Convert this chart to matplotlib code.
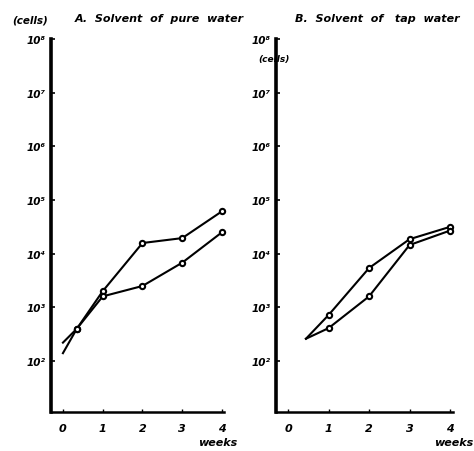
import matplotlib.pyplot as plt
from matplotlib.ticker import FixedLocator, NullLocator

# cell counts per week, panel A (pure water) and panel B (tap water)
weeks_a = [0, 0.35, 1, 2, 3, 4]
cells_a_upper = [140, 400, 2000, 15800, 19500, 61700]
cells_a_lower = [220, 400, 1600, 2500, 6800, 25100]

weeks_b = [0.44, 1, 2, 3, 4]
cells_b_upper = [260, 720, 5400, 18600, 31600]
cells_b_lower = [260, 410, 1600, 14500, 26900]

decades = [2, 3, 4, 5, 6, 7, 8]
tick_weeks = [0, 1, 2, 3, 4]

sup = str.maketrans('0123456789', '⁰¹²³⁴⁵⁶⁷⁸⁹')
font = dict(fontstyle='italic', fontweight='bold', family='DejaVu Sans')

fig = plt.figure(figsize=(4.74, 4.52), dpi=100, facecolor='white')
ax_a = fig.add_axes([0.1076, 0.0863, 0.365, 0.8252])
ax_b = fig.add_axes([0.5823, 0.0863, 0.373, 0.8252])


def style(ax, xlim):
    ax.set_yscale('log')
    ax.set_ylim(10 ** 1.05, 10 ** 8)
    ax.set_xlim(*xlim)
    for s in ('top', 'right'):
        ax.spines[s].set_visible(False)
    ax.spines['left'].set_linewidth(2.6)
    ax.spines['bottom'].set_linewidth(1.8)
    ax.yaxis.set_major_locator(FixedLocator([10 ** d for d in decades]))
    ax.yaxis.set_minor_locator(NullLocator())
    ax.set_yticklabels(['10' + str(d).translate(sup) for d in decades],
                       fontsize=7.5, **font)
    ax.set_xticks(tick_weeks)
    ax.set_xticklabels([str(w) for w in tick_weeks], fontsize=8, **font)
    ax.tick_params(axis='y', direction='in', length=3, width=1.2, pad=4)
    ax.tick_params(axis='x', direction='in', length=2, width=1, pad=8)


def curve(ax, x, y, start):
    ax.plot(x, y, color='black', lw=1.5, marker='o', ms=3.8,
            mfc='white', mec='black', mew=1.5,
            markevery=list(range(start, len(x))), clip_on=False)


style(ax_a, (-0.3, 4.05))
curve(ax_a, weeks_a, cells_a_upper, 1)
curve(ax_a, weeks_a, cells_a_lower, 1)

style(ax_b, (-0.3, 4.07))
curve(ax_b, weeks_b, cells_b_upper, 1)
curve(ax_b, weeks_b, cells_b_lower, 1)

fig.text(0.158, 0.952, 'A.  Solvent  of  pure  water', fontsize=8, **font)
fig.text(0.622, 0.952, 'B.  Solvent  of   tap  water', fontsize=8, **font)
fig.text(0.025, 0.948, '(cells)', fontsize=7.5, **font)
fig.text(0.545, 0.862, '(cells)', fontsize=6.5, **font)
fig.text(0.418, 0.013, 'weeks', fontsize=8, **font)
fig.text(0.915, 0.013, 'weeks', fontsize=8, **font)

fig.savefig('out.png', dpi=100, facecolor='white')
